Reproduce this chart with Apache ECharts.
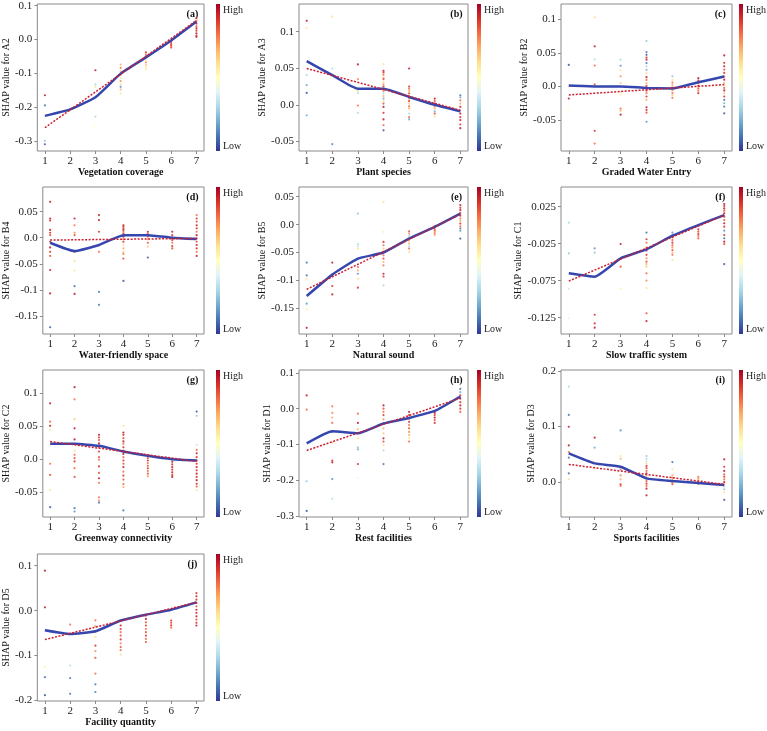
<!DOCTYPE html>
<html>
<head>
<meta charset="utf-8">
<script src="https://cdn.jsdelivr.net/npm/echarts@6/dist/echarts.min.js"></script>
<style>
  html, body { margin: 0; padding: 0; background: #fff; }
  #chart { width: 767px; height: 731px; }
</style>
</head>
<body>
<div id="chart"></div>
<script>
// ---- data ----
const xTicks = [1, 2, 3, 4, 5, 6, 7];
const panelTags = ['(a)', '(b)', '(c)', '(d)', '(e)', '(f)', '(g)', '(h)', '(i)', '(j)'];
const xTitles = ['Vegetation coverage', 'Plant species', 'Graded Water Entry', 'Water-friendly space',
  'Natural sound', 'Slow traffic system', 'Greenway connectivity', 'Rest facilities',
  'Sports facilities', 'Facility quantity'];
const yTitles = ['SHAP value for A2', 'SHAP value for A3', 'SHAP value for B2', 'SHAP value for B4',
  'SHAP value for B5', 'SHAP value for C1', 'SHAP value for C2', 'SHAP value for D1',
  'SHAP value for D3', 'SHAP value for D5'];
const yTicks = [
  [0.1, 0, -0.1, -0.2, -0.3],
  [0.1, 0.05, 0, -0.05],
  [0.1, 0.05, 0, -0.05],
  [0.05, 0, -0.05, -0.1, -0.15],
  [0.05, 0, -0.05, -0.1, -0.15],
  [0.025, -0.025, -0.075, -0.125],
  [0.1, 0.05, 0, -0.05],
  [0.1, 0, -0.1, -0.2, -0.3],
  [0.2, 0.1, 0],
  [0.1, 0, -0.1, -0.2]
];
const yMin = [-0.33, -0.0633, -0.096, -0.185, -0.196, -0.147, -0.088, -0.303, -0.063, -0.201];
const yMax = [0.105, 0.138, 0.1225, 0.0975, 0.0674, 0.0516, 0.1357, 0.108, 0.202, 0.126];

// blue fitted curve, value at x = 1..7
const fitA = [-0.226, -0.207, -0.171, -0.101, -0.053, -0.003, 0.053];
const fitB = [0.0598, 0.0405, 0.022, 0.022, 0.0107, 0.0, -0.009];
const fitC = [0.0012, 0.0, 0.0, -0.0023, -0.003, 0.0061, 0.0147];
const fitD = [-0.0096, -0.0256, -0.014, 0.005, 0.005, 0.0, -0.0026];
const fitE = [-0.128, -0.0896, -0.061, -0.05, -0.025, -0.004, 0.0197];
const fitF = [-0.065, -0.0696, -0.0448, -0.0327, -0.0142, 0.0002, 0.0137];
const fitG = [0.0233, 0.0233, 0.0203, 0.0117, 0.0051, 0.0, -0.002];
const fitH = [-0.097, -0.063, -0.069, -0.0416, -0.026, -0.0065, 0.034];
const fitI = [0.0517, 0.0336, 0.0276, 0.0066, 0.0018, -0.0018, -0.0054];
const fitJ = [-0.0437, -0.052, -0.046, -0.022, -0.009, 0.002, 0.0185];

// red linear trend, value at x = 1 and x = 7
const trendA = [-0.261, 0.056];
const trendB = [0.0497, -0.0075];
const trendC = [-0.0127, 0.0027];
const trendD = [-0.0045, -0.0013];
const trendE = [-0.116, 0.0185];
const trendF = [-0.0755, 0.0137];
const trendG = [0.0269, -0.0035];
const trendH = [-0.117, 0.0295];
const trendI = [0.0318, -0.0042];
const trendJ = [-0.0644, 0.0185];

// scatter points: [feature level, SHAP value, colour value 0 (low) .. 1 (high)]
const ptsA = [[1,-0.165,0.95],[1,-0.195,0.1],[1,-0.300,0.25],[1,-0.310,0.05],
  [2,-0.205,0.3],[2,-0.21,0.6],
  [3,-0.091,0.95],[3,-0.133,0.3],[3,-0.140,0.6],[3,-0.228,0.3],[3,-0.256,0.5],
  [4,-0.074,0.7],[4,-0.084,0.8],[4,-0.094,0.65],[4,-0.104,0.8],[4,-0.114,0.6],[4,-0.123,0.75],[4,-0.133,0.6],[4,-0.140,0.15],[4,-0.148,0.7],[4,-0.160,0.6],
  [5,-0.038,0.9],[5,-0.045,0.8],[5,-0.052,0.7],[5,-0.060,0.6],[5,-0.068,0.75],[5,-0.076,0.65],[5,-0.084,0.6],[5,-0.089,0.55],
  [6,-0.006,0.9],[6,-0.011,0.85],[6,-0.016,0.9],[6,-0.021,0.8],[6,-0.024,0.85],
  [7,0.063,0.9],[7,0.055,0.8],[7,0.047,0.95],[7,0.039,0.85],[7,0.033,0.95],[7,0.026,0.9],[7,0.018,0.95],[7,0.011,0.9],[7,0.008,0.95]];
const ptsB = [[1,0.115,0.95],[1,0.105,0.6],[1,0.0405,0.3],[1,0.0268,0.2],[1,0.0162,0.05],[1,-0.0144,0.2],
  [2,0.1206,0.6],[2,0.0497,0.3],[2,-0.054,0.15],
  [3,0.0552,0.95],[3,0.035,0.75],[3,0.019,0.6],[3,0.016,0.3],[3,-0.001,0.8],[3,-0.011,0.3],
  [4,0.0557,0.6],[4,0.0466,0.95],[4,0.0443,0.9],[4,0.041,0.8],[4,0.037,0.7],[4,0.035,0.85],[4,0.031,0.6],[4,0.028,0.75],[4,0.025,0.9],[4,0.0222,0.6],[4,0.019,0.8],[4,0.0155,0.3],[4,0.012,0.7],[4,0.0085,0.2],[4,0.005,0.6],[4,0.0016,0.85],[4,-0.003,0.95],[4,-0.011,0.9],[4,-0.020,0.95],[4,-0.028,0.8],[4,-0.035,0.05],
  [5,0.0497,0.95],[5,0.025,0.9],[5,0.022,0.8],[5,0.019,0.7],[5,0.0155,0.85],[5,0.012,0.6],[5,0.0085,0.75],[5,0.005,0.9],[5,0.0016,0.65],[5,-0.002,0.8],[5,-0.005,0.7],[5,-0.012,0.3],[5,-0.017,0.8],[5,-0.020,0.2],
  [6,0.0085,0.95],[6,0.005,0.85],[6,0.0016,0.9],[6,-0.002,0.8],[6,-0.005,0.7],[6,-0.009,0.2],[6,-0.012,0.85],[6,-0.016,0.6],
  [7,0.013,0.1],[7,0.010,0.2],[7,0.006,0.8],[7,0.0016,0.7],[7,-0.003,0.9],[7,-0.0075,0.3],[7,-0.012,0.95],[7,-0.017,0.9],[7,-0.021,0.95],[7,-0.027,0.9],[7,-0.032,0.95]];
const ptsC = [[1,0.032,0.05],[1,-0.018,0.95],[1,-0.034,0.5],[1,0.0,0.6],
  [2,0.1025,0.6],[2,0.0596,0.95],[2,0.040,0.3],[2,0.031,0.8],[2,0.003,0.85],[2,-0.066,0.9],[2,-0.085,0.8],
  [3,0.0397,0.3],[3,0.0307,0.15],[3,0.024,0.6],[3,0.015,0.75],[3,0.005,0.65],[3,-0.008,0.6],[3,-0.013,0.55],[3,-0.033,0.8],[3,-0.036,0.7],[3,-0.042,0.95],
  [4,0.0675,0.25],[4,0.051,0.1],[4,0.047,0.05],[4,0.043,0.9],[4,0.0397,0.95],[4,0.0347,0.1],[4,0.0297,0.3],[4,0.0247,0.2],[4,0.0197,0.6],[4,0.0137,0.95],[4,0.0097,0.8],[4,0.0047,0.7],[4,0.0007,0.9],[4,-0.0028,0.6],[4,-0.0063,0.85],[4,-0.010,0.8],[4,-0.015,0.9],[4,-0.020,0.7],[4,-0.031,0.95],[4,-0.035,0.9],[4,-0.039,0.85],[4,-0.0525,0.15],
  [5,0.015,0.25],[5,0.0097,0.6],[5,0.0057,0.8],[5,0.002,0.7],[5,-0.0018,0.85],[5,-0.0058,0.75],[5,-0.0098,0.8],[5,-0.013,0.65],[5,-0.017,0.8],
  [6,0.0122,0.95],[6,0.0087,0.9],[6,0.0047,0.8],[6,0.0007,0.95],[6,-0.003,0.85],[6,-0.0063,0.8],[6,-0.010,0.9],
  [7,0.046,0.95],[7,0.035,0.9],[7,0.030,0.95],[7,0.025,0.85],[7,0.020,0.9],[7,0.015,0.8],[7,0.010,0.95],[7,0.005,0.7],[7,0.0017,0.6],[7,-0.0023,0.8],[7,-0.006,0.95],[7,-0.010,0.65],[7,-0.015,0.9],[7,-0.020,0.1],[7,-0.025,0.2],[7,-0.030,0.1],[7,-0.040,0.05]];
const ptsD = [[1,0.069,0.95],[1,0.037,0.95],[1,0.033,0.9],[1,0.015,0.95],[1,0.0096,0.9],[1,0.005,0.85],[1,-0.0077,0.9],[1,-0.0186,0.95],[1,-0.027,0.9],[1,-0.035,0.85],[1,-0.062,0.95],[1,-0.107,0.95],[1,-0.172,0.05],
  [2,0.037,0.95],[2,0.024,0.8],[2,0.0096,0.75],[2,0.005,0.85],[2,-0.027,0.95],[2,-0.045,0.6],[2,-0.063,0.6],[2,-0.093,0.1],[2,-0.108,0.95],
  [3,0.0436,0.95],[3,0.034,0.95],[3,0.0115,0.9],[3,-0.027,0.8],[3,-0.104,0.1],[3,-0.129,0.1],
  [4,0.024,0.95],[4,0.021,0.9],[4,0.018,0.85],[4,0.015,0.95],[4,0.0115,0.8],[4,0.008,0.9],[4,0.005,0.7],[4,0.002,0.95],[4,-0.003,0.8],[4,-0.0077,0.9],[4,-0.014,0.6],[4,-0.0205,0.7],[4,-0.027,0.65],[4,-0.031,0.8],[4,-0.040,0.85],[4,-0.083,0.05],
  [5,0.0115,0.95],[5,0.008,0.85],[5,0.005,0.9],[5,0.002,0.8],[5,-0.003,0.75],[5,-0.0096,0.85],[5,-0.017,0.65],[5,-0.038,0.05],
  [6,0.0115,0.95],[6,0.005,0.9],[6,0.0,0.85],[6,-0.0045,0.9],[6,-0.0096,0.8],[6,-0.016,0.9],[6,-0.0205,0.85],
  [7,0.0436,0.8],[7,0.037,0.9],[7,0.031,0.85],[7,0.024,0.95],[7,0.018,0.9],[7,0.0115,0.8],[7,0.005,0.95],[7,-0.0013,0.9],[7,-0.0077,0.85],[7,-0.014,0.95],[7,-0.0205,0.9],[7,-0.027,0.8],[7,-0.035,0.95]];
const ptsE = [[1,-0.068,0.1],[1,-0.091,0.1],[1,-0.097,0.6],[1,-0.1416,0.15],[1,-0.152,0.55],[1,-0.185,0.95],
  [2,-0.068,0.95],[2,-0.091,0.8],[2,-0.110,0.9],[2,-0.125,0.95],
  [3,0.0197,0.25],[3,-0.035,0.3],[3,-0.039,0.35],[3,-0.043,0.6],[3,-0.076,0.8],[3,-0.082,0.7],[3,-0.088,0.15],[3,-0.097,0.6],[3,-0.113,0.9],
  [4,0.0406,0.6],[4,-0.013,0.55],[4,-0.031,0.9],[4,-0.037,0.8],[4,-0.043,0.65],[4,-0.049,0.9],[4,-0.055,0.8],[4,-0.061,0.85],[4,-0.067,0.7],[4,-0.073,0.8],[4,-0.088,0.95],[4,-0.093,0.9],[4,-0.109,0.3],
  [5,-0.012,0.85],[5,-0.016,0.75],[5,-0.020,0.3],[5,-0.025,0.8],[5,-0.029,0.65],[5,-0.034,0.7],[5,-0.039,0.3],[5,-0.043,0.8],[5,-0.049,0.6],
  [6,-0.003,0.9],[6,-0.007,0.8],[6,-0.010,0.85],[6,-0.013,0.75],[6,-0.016,0.8],[6,-0.019,0.7],
  [7,0.035,0.95],[7,0.030,0.9],[7,0.026,0.95],[7,0.021,0.85],[7,0.016,0.9],[7,0.011,0.8],[7,0.0066,0.7],[7,0.0018,0.9],[7,-0.003,0.8],[7,-0.007,0.1],[7,-0.011,0.15],[7,-0.025,0.05]];
const ptsF = [[1,0.0034,0.3],[1,-0.038,0.25],[1,-0.086,0.35],[1,-0.126,0.4],
  [2,-0.0313,0.15],[2,-0.037,0.25],[2,-0.121,0.9],[2,-0.1327,0.9],[2,-0.1385,0.95],
  [3,-0.0254,0.95],[3,-0.056,0.85],[3,-0.086,0.55],
  [4,-0.010,0.1],[4,-0.019,0.9],[4,-0.0237,0.8],[4,-0.030,0.7],[4,-0.0345,0.85],[4,-0.040,0.9],[4,-0.0448,0.75],[4,-0.0493,0.85],[4,-0.0525,0.7],[4,-0.056,0.65],[4,-0.065,0.8],[4,-0.075,0.75],[4,-0.085,0.6],[4,-0.119,0.85],[4,-0.1295,0.95],
  [5,-0.010,0.15],[5,-0.013,0.3],[5,-0.0164,0.9],[5,-0.020,0.85],[5,-0.0236,0.9],[5,-0.027,0.8],[5,-0.030,0.75],[5,-0.0336,0.85],[5,-0.037,0.7],[5,-0.040,0.8],[5,-0.047,0.6],
  [6,-0.0056,0.9],[6,-0.0088,0.85],[6,-0.012,0.9],[6,-0.0146,0.8],[6,-0.0178,0.85],
  [7,0.0286,0.95],[7,0.0259,0.9],[7,0.0227,0.95],[7,0.0196,0.85],[7,0.016,0.95],[7,0.0115,0.9],[7,0.007,0.85],[7,0.0025,0.95],[7,-0.002,0.9],[7,-0.0074,0.15],[7,-0.0133,0.9],[7,-0.0178,0.1],[7,-0.0223,0.95],[7,-0.0255,0.85],[7,-0.0525,0.05]];
const ptsG = [[1,0.085,0.95],[1,0.057,0.8],[1,0.0507,0.95],[1,0.0446,0.6],[1,-0.007,0.8],[1,-0.024,0.85],[1,-0.047,0.6],[1,-0.073,0.05],
  [2,0.1095,0.95],[2,0.091,0.8],[2,0.061,0.65],[2,0.047,0.95],[2,0.030,0.95],[2,0.013,0.6],[2,0.0066,0.8],[2,0.0015,0.85],[2,-0.0035,0.9],[2,-0.0137,0.8],[2,-0.027,0.85],[2,-0.0745,0.1],[2,-0.0796,0.15],
  [3,0.037,0.95],[3,0.033,0.9],[3,0.029,0.85],[3,0.024,0.95],[3,0.018,0.8],[3,0.0117,0.9],[3,0.003,0.85],[3,-0.001,0.8],[3,-0.011,0.9],[3,-0.021,0.85],[3,-0.029,0.95],[3,-0.036,0.8],[3,-0.058,0.8],[3,-0.063,0.75],[3,-0.066,0.1],
  [4,0.0507,0.6],[4,0.0405,0.95],[4,0.037,0.9],[4,0.032,0.85],[4,0.027,0.95],[4,0.0233,0.8],[4,0.018,0.9],[4,0.013,0.85],[4,0.008,0.95],[4,0.003,0.8],[4,-0.002,0.9],[4,-0.007,0.85],[4,-0.012,0.95],[4,-0.019,0.8],[4,-0.025,0.9],[4,-0.031,0.85],[4,-0.038,0.8],[4,-0.0426,0.7],[4,-0.078,0.1],
  [5,0.005,0.9],[5,0.0015,0.85],[5,-0.002,0.9],[5,-0.006,0.8],[5,-0.010,0.85],[5,-0.014,0.9],[5,-0.018,0.8],[5,-0.022,0.85],[5,-0.026,0.75],
  [6,0.0,0.9],[6,-0.004,0.95],[6,-0.008,0.9],[6,-0.012,0.95],[6,-0.016,0.9],[6,-0.020,0.95],[6,-0.024,0.9],[6,-0.027,0.95],
  [7,0.0725,0.05],[7,0.066,0.25],[7,0.0218,0.35],[7,0.014,0.8],[7,0.009,0.95],[7,0.003,0.9],[7,-0.002,0.95],[7,-0.007,0.9],[7,-0.012,0.95],[7,-0.017,0.9],[7,-0.022,0.95],[7,-0.027,0.9],[7,-0.032,0.95],[7,-0.0375,0.9],[7,-0.0416,0.85],[7,-0.047,0.6]];
const ptsH = [[1,0.037,0.95],[1,-0.003,0.8],[1,-0.203,0.25],[1,-0.286,0.05],
  [2,0.0065,0.8],[2,-0.012,0.75],[2,-0.025,0.7],[2,-0.040,0.8],[2,-0.065,0.15],[2,-0.095,0.65],[2,-0.145,0.9],[2,-0.150,0.95],[2,-0.197,0.15],[2,-0.252,0.3],
  [3,-0.014,0.8],[3,-0.040,0.95],[3,-0.058,0.7],[3,-0.067,0.6],[3,-0.083,0.6],[3,-0.108,0.25],[3,-0.114,0.2],[3,-0.155,0.9],[3,-0.194,0.45],
  [4,0.009,0.95],[4,0.0,0.85],[4,-0.009,0.8],[4,-0.018,0.9],[4,-0.030,0.75],[4,-0.0415,0.8],[4,-0.055,0.7],[4,-0.069,0.65],[4,-0.083,0.95],[4,-0.092,0.85],[4,-0.102,0.6],[4,-0.117,0.3],[4,-0.155,0.1],
  [5,-0.009,0.95],[5,-0.018,0.9],[5,-0.028,0.85],[5,-0.037,0.9],[5,-0.046,0.8],[5,-0.055,0.85],[5,-0.065,0.75],[5,-0.074,0.7],[5,-0.083,0.6],[5,-0.092,0.8],
  [6,-0.012,0.95],[6,-0.018,0.9],[6,-0.025,0.95],[6,-0.032,0.85],[6,-0.040,0.9],
  [7,0.055,0.1],[7,0.046,0.2],[7,0.037,0.9],[7,0.028,0.95],[7,0.018,0.9],[7,0.009,0.95],[7,0.0,0.9],[7,-0.009,0.85]];
const ptsI = [[1,0.172,0.3],[1,0.121,0.1],[1,0.0997,0.95],[1,0.066,0.95],[1,0.054,0.8],[1,0.044,0.1],[1,0.0156,0.1],[1,0.005,0.6],[1,-0.054,0.5],
  [2,0.080,0.95],[2,0.062,0.2],[2,0.0246,0.6],
  [3,0.093,0.15],[3,0.047,0.6],[3,0.042,0.7],[3,0.023,0.8],[3,0.012,0.75],[3,0.005,0.7],[3,-0.004,0.9],[3,-0.007,0.8],
  [4,0.047,0.25],[4,0.042,0.3],[4,0.038,0.35],[4,0.034,0.6],[4,0.029,0.9],[4,0.025,0.85],[4,0.020,0.8],[4,0.0156,0.9],[4,0.011,0.7],[4,0.006,0.8],[4,0.0018,0.85],[4,-0.003,0.9],[4,-0.007,0.8],[4,-0.012,0.95],[4,-0.024,0.95],
  [5,0.036,0.1],[5,0.023,0.6],[5,0.012,0.7],[5,0.0078,0.8],[5,0.0036,0.75],[5,-0.0012,0.8],[5,-0.004,0.85],
  [6,0.0096,0.8],[6,0.006,0.75],[6,0.003,0.7],[6,-0.0012,0.8],[6,-0.004,0.75],
  [7,0.041,0.95],[7,0.0276,0.9],[7,0.020,0.95],[7,0.014,0.85],[7,0.0096,0.9],[7,0.0048,0.8],[7,0.0,0.95],[7,-0.004,0.7],[7,-0.008,0.3],[7,-0.013,0.25],[7,-0.018,0.6],[7,-0.032,0.05]];
const ptsJ = [[1,0.089,0.95],[1,0.0074,0.95],[1,-0.125,0.55],[1,-0.148,0.1],[1,-0.188,0.05],
  [2,-0.031,0.8],[2,-0.122,0.3],[2,-0.150,0.1],[2,-0.185,0.1],
  [3,-0.0215,0.8],[3,-0.035,0.75],[3,-0.048,0.7],[3,-0.0585,0.6],[3,-0.078,0.9],[3,-0.090,0.75],[3,-0.105,0.85],[3,-0.140,0.8],[3,-0.164,0.1],[3,-0.181,0.1],
  [4,-0.033,0.95],[4,-0.041,0.9],[4,-0.048,0.8],[4,-0.0555,0.85],[4,-0.064,0.9],[4,-0.073,0.75],[4,-0.081,0.85],[4,-0.088,0.8],[4,-0.098,0.6],
  [5,-0.011,0.9],[5,-0.0185,0.95],[5,-0.026,0.85],[5,-0.033,0.9],[5,-0.041,0.8],[5,-0.048,0.85],[5,-0.0555,0.9],[5,-0.063,0.8],[5,-0.070,0.85],
  [6,-0.022,0.9],[6,-0.027,0.85],[6,-0.0326,0.9],[6,-0.038,0.8],
  [7,0.039,0.9],[7,0.032,0.95],[7,0.0244,0.9],[7,0.017,0.95],[7,0.0096,0.85],[7,0.002,0.95],[7,-0.005,0.9],[7,-0.0126,0.95],[7,-0.020,0.85],[7,-0.027,0.9],[7,-0.033,0.95]];

const fits = [fitA, fitB, fitC, fitD, fitE, fitF, fitG, fitH, fitI, fitJ];
const trends = [trendA, trendB, trendC, trendD, trendE, trendF, trendG, trendH, trendI, trendJ];
const points = [ptsA, ptsB, ptsC, ptsD, ptsE, ptsF, ptsG, ptsH, ptsI, ptsJ];

// ---- layout ----
const FONT = '"Liberation Serif", "Times New Roman", serif';
const colLeft = [34, 299, 561];
const colW = [170, 169, 171];
const rowTop = [4, 187, 370, 554];
const rowH = 147;
const barX = [216, 477, 739];
const nameGapY = [21, 24, 25];
// RdYlBu, low -> high
const palette = ['#313695', '#4575b4', '#74add1', '#abd9e9', '#e0f3f8', '#ffffbf',
  '#fee090', '#fdae61', '#f46d43', '#d73027', '#a50026'];

const chart = echarts.init(document.getElementById('chart'));
const grid = [], xAxis = [], yAxis = [], series = [], visualMap = [], graphic = [];

for (let i = 0; i < 10; i++) {
  const r = Math.floor(i / 3), c = i % 3;
  grid.push({
    left: colLeft[c], top: rowTop[r], width: colW[c], height: rowH,
    show: true, borderColor: '#8a8a8a', borderWidth: 1, backgroundColor: 'transparent'
  });
  xAxis.push({
    gridIndex: i, type: 'value', min: 0.7, max: 7.3,
    name: xTitles[i], nameLocation: 'middle', nameGap: 16,
    nameTextStyle: { fontFamily: FONT, fontWeight: 'bold', fontSize: 10, color: '#111' },
    axisLine: { show: false, onZero: false },
    splitLine: { show: false },
    axisTick: { show: true, length: 3, customValues: xTicks, lineStyle: { color: '#8a8a8a' } },
    axisLabel: { customValues: xTicks, margin: 5, fontFamily: FONT, fontSize: 11, color: '#222' }
  });
  yAxis.push({
    gridIndex: i, type: 'value', min: yMin[i], max: yMax[i],
    name: yTitles[i], nameLocation: 'middle', nameGap: nameGapY[c],
    nameTextStyle: { fontFamily: FONT, fontSize: 10, color: '#111' },
    axisLine: { show: false, onZero: false },
    splitLine: { show: false },
    axisTick: { show: true, length: 3, customValues: yTicks[i], lineStyle: { color: '#8a8a8a' } },
    axisLabel: {
      customValues: yTicks[i], margin: 5, fontFamily: FONT, fontSize: 11, color: '#222',
      formatter: v => (v === 0 ? '0.0' : String(v))
    }
  });
  series.push({
    type: 'scatter', xAxisIndex: i, yAxisIndex: i, data: points[i],
    symbol: 'circle', symbolSize: 2.2, silent: true, z: 2,
    itemStyle: { opacity: 0.85 }
  });
  series.push({
    type: 'line', xAxisIndex: i, yAxisIndex: i,
    data: fits[i].map((y, k) => [xTicks[k], y]),
    symbol: 'none', smooth: 0.15, silent: true, z: 3,
    lineStyle: { color: '#3546ae', width: 2.5 }
  });
  series.push({
    type: 'line', xAxisIndex: i, yAxisIndex: i,
    data: [[xTicks[0], trends[i][0]], [xTicks[6], trends[i][1]]],
    symbol: 'none', silent: true, z: 4,
    lineStyle: { color: '#cc1f2f', width: 1.5, type: [2, 1.5] }
  });
  visualMap.push({
    type: 'continuous', show: false, seriesIndex: 3 * i, dimension: 2,
    min: 0, max: 1, inRange: { color: palette }
  });

  // colour bar with High / Low labels
  const top = rowTop[r];
  graphic.push({
    type: 'rect', x: barX[c], y: top, shape: { width: 4, height: rowH }, silent: true,
    style: {
      fill: new echarts.graphic.LinearGradient(0, 1, 0, 0,
        palette.map((col, k) => ({ offset: k / (palette.length - 1), color: col })))
    }
  });
  graphic.push({
    type: 'text', x: barX[c] + 7, y: top + 6, silent: true,
    style: { text: 'High', font: '10px ' + FONT, fill: '#222', verticalAlign: 'middle' }
  });
  graphic.push({
    type: 'text', x: barX[c] + 7, y: top + rowH - 5, silent: true,
    style: { text: 'Low', font: '10px ' + FONT, fill: '#222', verticalAlign: 'middle' }
  });
  graphic.push({
    type: 'text', x: colLeft[c] + colW[c] * (6.85 - 0.7) / 6.6, y: top + 10, silent: true,
    style: { text: panelTags[i], font: 'bold 10px ' + FONT, fill: '#111', align: 'center', verticalAlign: 'middle' }
  });
}

chart.setOption({
  animation: false,
  backgroundColor: '#fff',
  grid, xAxis, yAxis, series, visualMap, graphic
});
</script>
</body>
</html>
